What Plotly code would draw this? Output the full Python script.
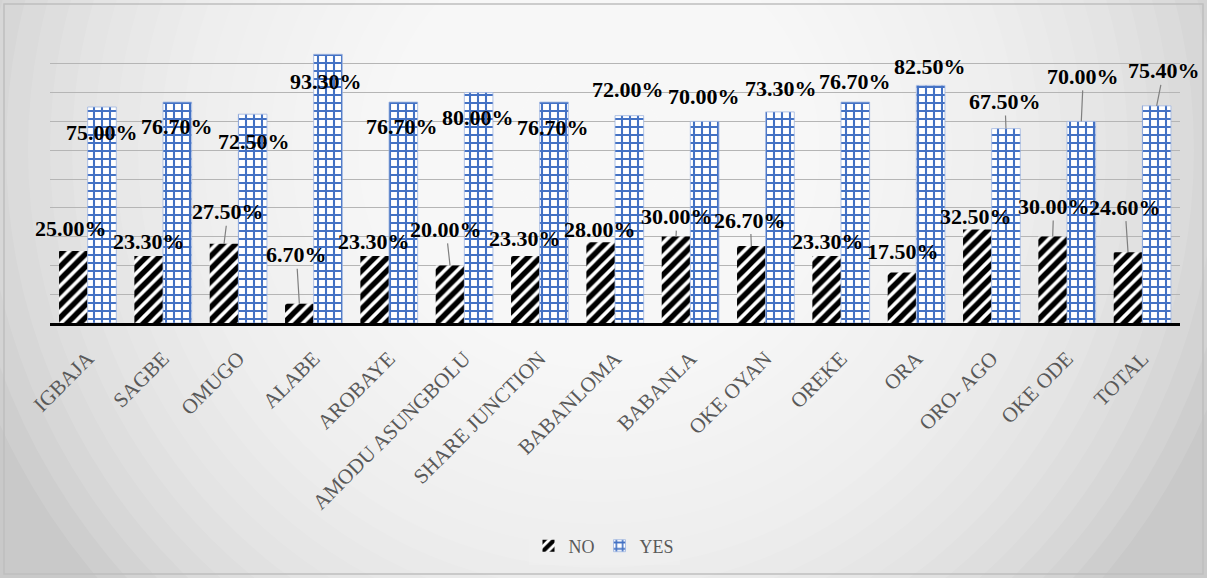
import plotly.graph_objects as go

categories = ["IGBAJA", "SAGBE", "OMUGO", "ALABE", "AROBAYE", "AMODU ASUNGBOLU",
              "SHARE JUNCTION", "BABANLOMA", "BABANLA", "OKE OYAN", "OREKE", "ORA",
              "ORO- AGO", "OKE ODE", "TOTAL"]
no_values = [25.0, 23.3, 27.5, 6.7, 23.3, 20.0, 23.3, 28.0, 30.0, 26.7, 23.3, 17.5, 32.5, 30.0, 24.6]
yes_values = [75.0, 76.7, 72.5, 93.3, 76.7, 80.0, 76.7, 72.0, 70.0, 73.3, 76.7, 82.5, 67.5, 70.0, 75.4]

# label placement (pixel offsets of label centre from bar top, leader-line flag)
no_label_dx = [-2, 0, 4, -3, -1, -4, 0, -1, 1, -1, 1, 1, -1, 1, -3]
no_label_dy = [-23, -14, -32, -49, -14, -36, -17, -13, -20, -26, -14, -21, -13, -30, -45]
no_leader = [0, 0, 1, 1, 0, 1, 0, 0, 1, 1, 0, 0, 0, 1, 1]
yes_label_dx = [0, 0, 1, -2, -1, -1, -1, -1, -1, 1, 0, -1, -1, 2, 7]
yes_label_dy = [25, 24, 27, 27, 24, 25, 25, -26, -25, -23, -21, -19, -27, -45, -35]
yes_leader = [0, 0, 0, 0, 0, 0, 0, 0, 0, 0, 0, 0, 1, 1, 1]

W, H = 1207, 578
ML, MR, MT, MB = 50, 27, 35, 255
BARGAP = 0.24
SERIF = "Liberation Serif"

fig = go.Figure()
fig.add_trace(go.Bar(
    name="NO", x=categories, y=no_values,
    marker=dict(color="white", line=dict(width=0),
                pattern=dict(shape="/", fgcolor="black", bgcolor="white", fgopacity=1,
                             size=9, solidity=0.6)),
))
fig.add_trace(go.Bar(
    name="YES", x=categories, y=yes_values,
    marker=dict(color="white", line=dict(width=0.8, color="#9db4e0"),
                pattern=dict(shape="+", fgcolor="#4472c4", bgcolor="white", fgopacity=1,
                             size=8, solidity=0.45)),
))

half = (1 - BARGAP) / 4.0
annotations = []
for i in range(len(categories)):
    for vals, dxs, dys, lead, off in ((no_values, no_label_dx, no_label_dy, no_leader, -half),
                                      (yes_values, yes_label_dx, yes_label_dy, yes_leader, half)):
        annotations.append(dict(
            x=i + off, y=vals[i], xref="x", yref="y",
            text="<b>%.2f%%</b>" % vals[i],
            showarrow=True, arrowhead=0, arrowwidth=1.2,
            arrowcolor="#7f7f7f" if lead[i] else "rgba(0,0,0,0)",
            ax=dxs[i], ay=dys[i], standoff=0,
            font=dict(family=SERIF, size=22, color="black"),
        ))

# background: soft radial grey-to-white gradient (stack of translucent ellipses)
pw = W - ML - MR
ph = H - MT - MB


def px_x(px):
    return (px - ML) / pw


def px_y(py):
    return (H - MB - py) / ph


shapes = []
CX, CY, RMAX, STEPS = 600, 150, 660, 30
for k in range(STEPS):
    r = RMAX * (1 - k / STEPS)
    shapes.append(dict(type="circle", xref="paper", yref="paper", layer="below",
                       x0=px_x(CX - r), x1=px_x(CX + r),
                       y0=px_y(CY + r), y1=px_y(CY - r),
                       fillcolor="white", opacity=0.1, line=dict(width=0)))
# outer frame
shapes.append(dict(type="rect", xref="paper", yref="paper", layer="below",
                   x0=px_x(4), x1=px_x(W - 4), y0=px_y(H - 4), y1=px_y(4),
                   line=dict(color="#bfbfbf", width=1.5), fillcolor="rgba(0,0,0,0)"))

fig.update_layout(
    width=W, height=H,
    margin=dict(l=ML, r=MR, t=MT, b=MB, autoexpand=False),
    barmode="group", bargap=BARGAP, bargroupgap=0,
    paper_bgcolor="#c9c9c9", plot_bgcolor="rgba(0,0,0,0)",
    font=dict(family=SERIF, color="#595959"),
    showlegend=True,
    legend=dict(orientation="h", x=px_x(604), xanchor="center", y=px_y(546), yanchor="middle",
                bgcolor="rgba(238,238,238,0.9)", font=dict(family=SERIF, size=18, color="#595959"),
                itemwidth=30),
    annotations=annotations,
    shapes=shapes,
)
fig.update_xaxes(range=[-0.5, len(categories) - 0.5], autorange=False,
                 showline=True, linecolor="black", linewidth=3, ticks="",
                 tickangle=-45, tickfont=dict(family=SERIF, size=21, color="#595959"),
                 ticklabelstandoff=12, showgrid=False, automargin=False)
fig.update_yaxes(range=[0, 100], dtick=10, showticklabels=False, showgrid=True,
                 gridcolor="#b5b5b5", gridwidth=1.3, zeroline=False, showline=False,
                 automargin=False)

fig.write_html("out.html", config={"displayModeBar": False},
               post_script="document.body.style.margin='0';")
